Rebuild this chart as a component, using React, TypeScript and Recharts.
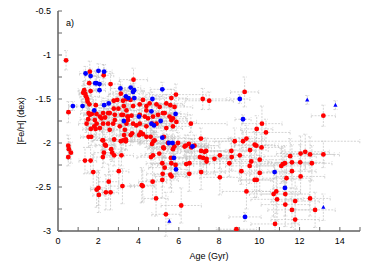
import React from 'react';
import { ScatterChart, Scatter, XAxis, YAxis, ErrorBar } from 'recharts';

type Pt = [number, number, number, number]; // age, [Fe/H], age error, [Fe/H] error

const redStars: Pt[] = [
  [0.40, -1.06, 0.1, 0.11], [0.52, -1.65, 0.1, 0.12], [1.58, -1.19, 0.3, 0.12], [2.27, -1.23, 0.5, 0.12],
  [1.55, -1.32, 0.3, 0.1], [2.61, -1.33, 0.5, 0.12], [3.75, -1.28, 0.7, 0.13], [1.30, -1.40, 0.3, 0.1],
  [1.35, -1.44, 0.3, 0.1], [1.39, -1.47, 0.3, 0.1], [1.45, -1.50, 0.3, 0.1], [1.47, -1.53, 0.3, 0.1],
  [1.25, -1.43, 0.2, 0.08], [1.62, -1.41, 0.3, 0.1], [1.56, -1.56, 0.3, 0.1], [1.88, -1.57, 0.5, 0.1],
  [3.12, -1.44, 0.6, 0.1], [5.86, -1.45, 1.5, 0.12], [5.63, -1.49, 0.8, 0.1], [9.27, -1.42, 0.7, 0.17],
  [7.19, -1.50, 1.2, 0.12], [7.51, -1.52, 1.2, 0.1], [13.18, -1.69, 0.6, 0.12], [10.13, -1.78, 1.0, 0.2],
  [9.87, -1.84, 0.8, 0.15], [6.60, -1.78, 1.8, 0.1], [10.33, -1.88, 1.2, 0.15], [7.10, -1.95, 1.5, 0.12],
  [2.77, -1.52, 0.6, 0.1], [2.94, -1.51, 0.5, 0.1], [3.23, -1.52, 0.6, 0.12], [3.40, -1.50, 0.7, 0.1],
  [3.60, -1.51, 0.6, 0.1], [3.27, -1.58, 0.5, 0.1], [3.73, -1.58, 0.6, 0.1], [4.06, -1.56, 0.7, 0.12],
  [4.22, -1.51, 0.5, 0.1], [4.39, -1.58, 0.6, 0.1], [4.55, -1.55, 0.8, 0.12], [4.89, -1.56, 0.7, 0.1],
  [5.05, -1.59, 0.6, 0.12], [5.38, -1.55, 0.8, 0.1], [5.58, -1.57, 0.7, 0.1], [5.79, -1.59, 0.9, 0.12],
  [2.77, -1.61, 0.5, 0.1], [3.00, -1.61, 0.6, 0.1], [3.40, -1.63, 0.5, 0.12], [2.57, -1.66, 0.6, 0.1],
  [2.82, -1.68, 0.5, 0.1], [3.23, -1.68, 0.7, 0.12], [3.48, -1.70, 0.6, 0.1], [3.65, -1.69, 0.5, 0.1],
  [4.06, -1.68, 0.7, 0.1], [4.39, -1.63, 0.6, 0.12], [4.72, -1.70, 0.8, 0.1], [4.97, -1.68, 0.7, 0.12],
  [5.21, -1.66, 0.6, 0.1], [5.54, -1.70, 0.8, 0.1], [5.71, -1.72, 0.7, 0.12], [5.88, -1.76, 1.0, 0.1],
  [1.52, -1.66, 0.4, 0.1], [1.68, -1.67, 0.4, 0.12], [2.08, -1.70, 0.5, 0.1], [2.34, -1.71, 0.5, 0.1],
  [1.92, -1.78, 0.5, 0.12], [2.24, -1.78, 0.5, 0.1], [2.74, -1.78, 0.6, 0.1], [3.07, -1.81, 0.6, 0.12],
  [3.40, -1.78, 0.7, 0.1], [3.73, -1.78, 0.6, 0.1], [4.06, -1.78, 0.7, 0.12], [4.39, -1.81, 0.6, 0.1],
  [4.89, -1.78, 0.7, 0.1], [5.38, -1.83, 0.8, 0.12], [5.71, -1.81, 0.9, 0.1], [1.80, -1.81, 0.4, 0.1],
  [2.08, -1.83, 0.5, 0.12], [1.58, -1.68, 0.3, 0.1], [1.50, -1.73, 0.4, 0.12], [1.91, -1.67, 0.5, 0.1],
  [2.24, -1.66, 0.5, 0.1], [2.49, -1.66, 0.5, 0.12], [3.15, -1.68, 0.6, 0.1], [1.42, -1.78, 0.4, 0.1],
  [1.83, -1.74, 0.5, 0.1], [2.16, -1.72, 0.5, 0.12], [2.49, -1.78, 0.5, 0.1], [2.82, -1.74, 0.6, 0.1],
  [3.48, -1.74, 0.6, 0.12], [1.63, -1.84, 0.4, 0.1], [1.87, -1.84, 0.5, 0.12], [2.57, -1.85, 0.5, 0.1],
  [3.32, -1.85, 0.6, 0.1], [3.45, -1.70, 0.6, 0.1], [3.89, -1.80, 0.7, 0.12], [4.31, -1.70, 0.6, 0.1],
  [4.47, -1.72, 0.7, 0.1], [4.67, -1.78, 0.7, 0.12], [5.30, -1.66, 0.8, 0.1], [5.63, -1.74, 0.8, 0.12],
  [1.52, -1.93, 0.4, 0.12], [1.65, -1.93, 0.4, 0.1], [2.21, -1.97, 0.5, 0.12], [2.38, -2.03, 0.5, 0.1],
  [2.64, -2.07, 0.5, 0.12], [2.79, -1.96, 0.6, 0.1], [3.12, -1.98, 0.6, 0.12], [3.37, -1.98, 0.6, 0.1],
  [3.28, -1.91, 0.6, 0.1], [3.61, -1.91, 0.7, 0.12], [3.68, -1.89, 0.6, 0.1], [4.11, -1.88, 0.7, 0.12],
  [4.03, -1.91, 0.6, 0.1], [4.22, -1.90, 0.7, 0.1], [4.39, -1.93, 0.7, 0.12], [4.60, -1.93, 0.8, 0.1],
  [4.74, -1.98, 0.7, 0.12], [4.67, -2.01, 0.6, 0.1], [4.80, -1.97, 0.7, 0.1], [5.26, -1.93, 0.8, 0.12],
  [5.46, -2.00, 0.8, 0.1], [5.23, -2.05, 0.7, 0.12], [5.78, -2.04, 0.9, 0.1], [5.96, -2.00, 1.0, 0.12],
  [6.29, -2.04, 1.0, 0.1], [6.35, -2.03, 1.1, 0.12], [6.62, -2.05, 1.0, 0.1], [6.78, -2.03, 1.2, 0.12],
  [5.26, -2.06, 0.8, 0.1], [5.71, -2.07, 0.8, 0.12], [6.50, -2.01, 1.0, 0.1], [2.24, -1.97, 0.5, 0.1],
  [2.33, -2.02, 0.5, 0.12], [3.23, -1.97, 0.6, 0.1], [3.37, -1.96, 0.6, 0.12],
  [0.51, -2.03, 0.1, 0.12], [0.54, -2.07, 0.1, 0.12], [0.64, -2.11, 0.1, 0.12], [0.51, -2.16, 0.1, 0.1],
  [1.34, -2.20, 0.3, 0.15], [1.62, -2.20, 0.3, 0.15], [2.28, -2.11, 0.5, 0.12], [2.23, -2.16, 0.5, 0.12],
  [2.79, -2.14, 0.5, 0.12], [2.69, -2.11, 0.5, 0.1], [3.15, -2.14, 0.6, 0.12], [4.62, -2.16, 0.7, 0.12],
  [4.72, -2.14, 0.6, 0.1], [5.03, -2.12, 0.7, 0.12], [5.18, -2.23, 0.8, 0.15], [5.61, -2.17, 0.8, 0.12],
  [5.63, -2.23, 0.8, 0.12], [5.84, -2.25, 0.9, 0.15], [5.30, -2.28, 0.8, 0.12], [6.53, -2.23, 1.0, 0.12],
  [6.37, -2.24, 1.0, 0.15],
  [1.75, -2.33, 0.3, 0.2], [1.92, -2.53, 0.3, 0.2], [2.01, -2.51, 0.4, 0.2], [2.03, -2.59, 0.3, 0.2],
  [2.38, -2.56, 0.4, 0.2], [2.61, -2.56, 0.4, 0.2], [2.52, -2.44, 0.5, 0.2], [3.02, -2.32, 0.5, 0.2],
  [3.20, -2.49, 0.6, 0.2], [4.16, -2.48, 0.6, 0.2], [4.21, -2.49, 0.6, 0.18], [4.70, -2.44, 0.7, 0.2],
  [4.87, -2.63, 0.6, 0.2], [5.36, -2.81, 0.7, 0.25], [5.20, -2.35, 0.8, 0.15], [5.18, -2.42, 0.8, 0.2],
  [5.58, -2.36, 0.8, 0.15], [5.64, -2.38, 0.8, 0.18], [6.12, -2.71, 1.0, 0.2],
  [8.78, -1.98, 1.0, 0.15], [9.19, -1.98, 5.8, 0.12], [9.36, -1.95, 0.9, 0.15], [9.77, -2.02, 1.0, 0.15],
  [9.85, -2.03, 1.1, 0.15], [10.11, -2.05, 1.0, 0.15], [9.54, -2.08, 0.9, 0.15],
  [7.28, -2.10, 1.2, 0.15], [7.05, -2.16, 1.5, 0.15], [7.21, -2.17, 1.2, 0.15], [7.38, -2.18, 1.0, 0.15],
  [7.38, -2.21, 1.2, 0.15], [7.77, -2.18, 1.0, 0.15], [8.04, -2.14, 1.2, 0.15], [8.51, -2.23, 1.0, 0.15],
  [8.61, -2.09, 1.2, 0.15], [9.03, -2.14, 1.0, 0.2], [8.63, -2.16, 1.0, 0.15], [9.60, -2.21, 1.0, 0.15],
  [9.52, -2.26, 1.2, 0.2], [10.02, -2.19, 1.2, 0.15], [9.11, -2.32, 1.0, 0.15], [9.77, -2.42, 0.8, 0.2],
  [9.87, -2.42, 0.8, 0.2], [10.02, -2.34, 1.0, 0.2], [11.17, -2.24, 1.3, 0.2], [11.09, -2.26, 1.2, 0.2],
  [11.27, -2.23, 1.2, 0.2], [11.62, -2.22, 1.2, 0.2], [11.53, -2.15, 1.3, 0.2], [12.05, -2.12, 1.2, 0.2],
  [12.28, -2.10, 1.2, 0.2], [12.52, -2.13, 1.2, 0.2], [13.18, -2.13, 0.8, 0.15], [12.03, -2.22, 1.2, 0.2],
  [12.61, -2.23, 1.0, 0.2], [12.05, -2.38, 1.2, 0.2], [11.62, -2.32, 1.2, 0.2], [11.35, -2.40, 1.2, 0.25],
  [10.84, -2.55, 1.2, 0.25], [10.71, -2.58, 1.2, 0.25], [11.29, -2.58, 1.2, 0.25], [10.88, -2.64, 1.3, 0.25],
  [11.29, -2.70, 1.2, 0.25], [11.78, -2.66, 1.2, 0.25], [12.52, -2.63, 1.0, 0.2], [12.77, -2.76, 1.0, 0.2],
  [11.62, -2.76, 1.2, 0.2], [11.78, -2.87, 1.2, 0.12], [10.78, -2.92, 1.2, 0.08], [8.86, -2.98, 1.0, 0.02],
  [9.36, -2.55, 1.2, 0.2], [8.04, -2.39, 1.0, 0.2], [7.11, -2.33, 1.2, 0.2], [6.52, -2.35, 1.3, 0.2],
  [7.11, -2.09, 1.2, 0.15], [7.36, -2.09, 1.0, 0.15],
];

const blueStars: Pt[] = [
  [0.74, -1.58, 0.2, 0.05], [1.22, -1.58, 0.3, 0.05], [1.37, -1.21, 0.3, 0.08], [1.62, -1.24, 0.3, 0.08],
  [2.01, -1.18, 0.4, 0.08], [2.29, -1.19, 0.4, 0.08], [1.85, -1.32, 0.3, 0.08], [1.91, -1.32, 0.3, 0.08],
  [2.06, -1.33, 0.3, 0.08], [2.06, -1.40, 0.3, 0.08], [1.80, -1.63, 0.3, 0.08], [2.29, -1.57, 0.4, 0.08],
  [2.52, -1.55, 0.4, 0.08], [3.10, -1.38, 0.5, 0.08], [3.37, -1.47, 0.5, 0.08], [3.50, -1.49, 0.5, 0.08],
  [3.61, -1.37, 0.5, 0.08], [3.73, -1.42, 0.5, 0.08], [3.78, -1.40, 0.5, 0.08], [3.79, -1.49, 0.5, 0.08],
  [4.69, -1.50, 0.6, 0.08], [5.18, -1.39, 0.6, 0.08], [3.27, -1.75, 0.5, 0.08], [4.02, -1.70, 0.5, 0.08],
  [4.64, -1.64, 0.5, 0.08], [4.64, -1.78, 0.5, 0.08], [4.77, -1.80, 0.5, 0.08], [5.10, -1.75, 0.6, 0.08],
  [5.84, -1.67, 0.6, 0.08], [5.18, -1.94, 0.6, 0.08], [5.51, -2.00, 0.6, 0.08], [5.69, -2.00, 0.6, 0.08],
  [5.76, -2.17, 0.6, 0.08], [5.86, -2.30, 0.6, 0.08], [6.68, -2.04, 0.8, 0.08], [9.03, -1.50, 0.5, 0.05],
  [9.19, -1.73, 0.4, 0.05], [10.76, -2.33, 0.6, 0.08], [11.27, -2.51, 0.6, 0.08], [9.29, -2.84, 0.8, 0.05],
];

const blueTriangles: Pt[] = [
  [12.38, -1.51, 0, 0.05], [13.78, -1.57, 0, 0.05], [13.18, -2.73, 0, 0.15], [5.53, -2.89, 0, 0.03],
];

const xTicks = [0, 1, 2, 3, 4, 5, 6, 7, 8, 9, 10, 11, 12, 13, 14, 15];
const yTicks = [-3, -2.75, -2.5, -2.25, -2, -1.75, -1.5, -1.25, -1, -0.75, -0.5];
const xLabel = 'Age (Gyr)';
const yLabel = '[Fe/H] (dex)';
const panelLabel = 'a)';

const toRows = (pts: Pt[]) => pts.map(([x, y, ex, ey]) => ({ x, y, ex, ey }));
const redRows = toRows(redStars);
const blueRows = toRows(blueStars);
const triRows = toRows(blueTriangles);
const allRows = [...redRows, ...blueRows, ...triRows];

const FONT = 'Liberation Sans, Arial, sans-serif';

const RedDot = (p: any) => <circle cx={p.cx} cy={p.cy} r={2.4} fill="#ff0000" />;
const BlueDot = (p: any) => <circle cx={p.cx} cy={p.cy} r={2.4} fill="#0000ff" />;
const BlueTri = (p: any) => (
  <polygon
    points={`${p.cx},${p.cy - 2.3} ${p.cx - 2.1},${p.cy + 1.5} ${p.cx + 2.1},${p.cy + 1.5}`}
    fill="#0000ff"
  />
);
const Empty = () => <g />;

const fmtX = (v: number) => (v % 2 === 0 && v <= 14 ? String(v) : '');
const fmtY = (v: number) => (Math.abs((v * 2) % 1) < 1e-9 ? String(v) : '');

export default function App() {
  const eb = { stroke: '#c2c2c2', strokeWidth: 0.7, strokeDasharray: '2 1.3', width: 2 };
  return (
    <div style={{ position: 'absolute', left: 0, top: 0, width: 374, height: 262, background: '#fff' }}>
      <ScatterChart width={374} height={262} margin={{ top: 11, right: 14, bottom: 0, left: 0 }}>
        <XAxis
          xAxisId={0}
          type="number"
          dataKey="x"
          domain={[0, 15]}
          ticks={xTicks}
          interval={0}
          allowDataOverflow
          height={31}
          tickSize={-4}
          tickMargin={11}
          tickFormatter={fmtX}
          axisLine={{ stroke: '#888', strokeWidth: 2 }}
          tickLine={{ stroke: '#666' }}
          tick={{ fontSize: 9, fill: '#000', fontFamily: FONT }}
        />
        <XAxis
          xAxisId="top"
          orientation="top"
          type="number"
          dataKey="x"
          domain={[0, 15]}
          ticks={xTicks}
          interval={0}
          allowDataOverflow
          height={0}
          tickSize={-4}
          tick={false}
          axisLine={{ stroke: '#666', strokeWidth: 1 }}
          tickLine={{ stroke: '#666' }}
        />
        <YAxis
          yAxisId={0}
          type="number"
          dataKey="y"
          domain={[-3, -0.5]}
          ticks={yTicks}
          interval={0}
          allowDataOverflow
          width={58}
          tickSize={-4}
          tickMargin={11}
          tickFormatter={fmtY}
          axisLine={{ stroke: '#888', strokeWidth: 2 }}
          tickLine={{ stroke: '#666' }}
          tick={{ fontSize: 9, fill: '#000', fontFamily: FONT }}
        />
        <YAxis
          yAxisId="right"
          orientation="right"
          type="number"
          dataKey="y"
          domain={[-3, -0.5]}
          ticks={yTicks}
          interval={0}
          allowDataOverflow
          width={0}
          tickSize={-4}
          tick={false}
          axisLine={{ stroke: '#888', strokeWidth: 2 }}
          tickLine={{ stroke: '#666' }}
        />
        <Scatter data={allRows} shape={Empty} isAnimationActive={false}>
          <ErrorBar dataKey="ex" direction="x" {...eb} isAnimationActive={false} />
          <ErrorBar dataKey="ey" direction="y" {...eb} isAnimationActive={false} />
        </Scatter>
        <Scatter data={redRows} shape={RedDot} isAnimationActive={false} />
        <Scatter data={blueRows} shape={BlueDot} isAnimationActive={false} />
        <Scatter data={triRows} shape={BlueTri} isAnimationActive={false} />
        <text x={66} y={26} fontSize={9} fontFamily={FONT} fill="#000">{panelLabel}</text>
        <text x={209} y={259} fontSize={9} fontFamily={FONT} fill="#000" textAnchor="middle">{xLabel}</text>
        <text
          x={21}
          y={121}
          fontSize={9}
          fontFamily={FONT}
          fill="#000"
          textAnchor="middle"
          dominantBaseline="central"
          transform="rotate(-90, 21, 121)"
        >
          {yLabel}
        </text>
      </ScatterChart>
    </div>
  );
}
